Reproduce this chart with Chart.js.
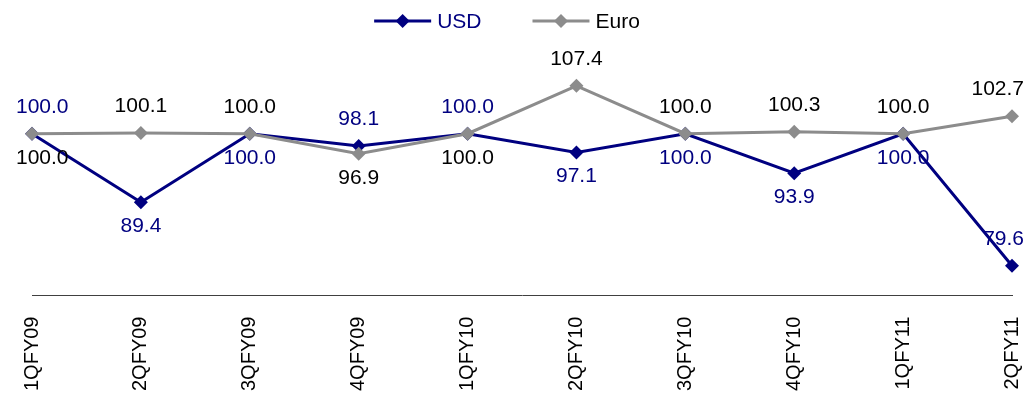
<!DOCTYPE html>
<html>
<head>
<meta charset="utf-8">
<script src="https://cdn.jsdelivr.net/npm/chart.js@4.4.1/dist/chart.umd.min.js"></script>
<style>
    html, body { margin: 0; padding: 0; background: #fff; }
    #wrap { width: 1036px; height: 394px; position: relative; }
</style>
</head>
<body>
<div id="wrap"><canvas id="fxChart"></canvas></div>
<script>
    // Quarter labels
    const quarters = ['1QFY09', '2QFY09', '3QFY09', '4QFY09', '1QFY10', '2QFY10', '3QFY10', '4QFY10', '1QFY11', '2QFY11'];

    // Index values
    const usdValues = [100.0, 89.4, 100.0, 98.1, 100.0, 97.1, 100.0, 93.9, 100.0, 79.6];
    const euroValues = [100.0, 100.1, 100.0, 96.9, 100.0, 107.4, 100.0, 100.3, 100.0, 102.7];

    // Where each data label sits relative to its point
    const usdLabelPos = ['above', 'below', 'below', 'above', 'above', 'below', 'below', 'below', 'below', 'above'];
    const euroLabelPos = ['below', 'above', 'above', 'below', 'below', 'above', 'above', 'above', 'above', 'above'];

    const NAVY = '#000080';
    const GREY = '#8c8c8c';
    const FONT = '"Liberation Sans", Arial, sans-serif';

    /**
     * Value labels next to each point
     */
    const pointLabels = {
        id: 'pointLabels',
        afterDatasetsDraw(chart) {
            const ctx = chart.ctx;
            ctx.save();
            ctx.font = '21px ' + FONT;
            ctx.textAlign = 'center';
            ctx.textBaseline = 'middle';
            chart.data.datasets.forEach((ds, di) => {
                const meta = chart.getDatasetMeta(di);
                meta.data.forEach((pt, i) => {
                    const txt = ds.data[i].toFixed(1);
                    const w = ctx.measureText(txt).width;
                    let x = Math.min(Math.max(pt.x, 16 + w / 2), 1024 - w / 2);
                    const y = ds.labelPos[i] === 'above' ? pt.y - 27 : pt.y + 24;
                    ctx.fillStyle = ds.labelColor;
                    ctx.fillText(txt, x, y);
                });
            });
            ctx.restore();
        }
    };

    /**
     * Legend: line with a diamond marker, like the original
     */
    const lineLegend = {
        id: 'lineLegend',
        afterDraw(chart) {
            const ctx = chart.ctx;
            ctx.save();
            ctx.font = '21px ' + FONT;
            ctx.textBaseline = 'middle';
            const lineLen = 57, gap = 6, spacing = 51, y = 21;
            const items = [
                { text: 'USD', color: NAVY, textColor: NAVY },
                { text: 'Euro', color: GREY, textColor: '#000' }
            ];
            let total = 0;
            items.forEach((it, i) => {
                it.w = ctx.measureText(it.text).width;
                total += lineLen + gap + it.w + (i ? spacing : 0);
            });
            let x = 507 - total / 2;
            items.forEach(it => {
                ctx.strokeStyle = it.color;
                ctx.lineWidth = 3;
                ctx.beginPath();
                ctx.moveTo(x, y);
                ctx.lineTo(x + lineLen, y);
                ctx.stroke();
                const cx = x + lineLen / 2;
                ctx.fillStyle = it.color;
                ctx.beginPath();
                ctx.moveTo(cx, y - 7);
                ctx.lineTo(cx + 7, y);
                ctx.lineTo(cx, y + 7);
                ctx.lineTo(cx - 7, y);
                ctx.closePath();
                ctx.fill();
                ctx.fillStyle = it.textColor;
                ctx.fillText(it.text, x + lineLen + gap, y + 1);
                x += lineLen + gap + it.w + spacing;
            });
            ctx.restore();
        }
    };

    new Chart(document.getElementById('fxChart'), {
        type: 'line',
        data: {
            labels: quarters,
            datasets: [{
                label: 'USD',
                data: usdValues,
                borderColor: NAVY,
                backgroundColor: NAVY,
                borderWidth: 3,
                pointStyle: 'rectRot',
                pointRadius: 7,
                pointBorderWidth: 0,
                labelPos: usdLabelPos,
                labelColor: NAVY,
                order: 1
            }, {
                label: 'Euro',
                data: euroValues,
                borderColor: GREY,
                backgroundColor: GREY,
                borderWidth: 3,
                pointStyle: 'rectRot',
                pointRadius: 7,
                pointBorderWidth: 0,
                labelPos: euroLabelPos,
                labelColor: '#000',
                order: 0
            }]
        },
        options: {
            responsive: true,
            maintainAspectRatio: false,
            animation: false,
            layout: {
                padding: { top: 69, left: 32, right: 24, bottom: -18 }
            },
            plugins: {
                legend: { display: false },
                tooltip: { enabled: false }
            },
            scales: {
                x: {
                    offset: false,
                    grid: { display: false, drawTicks: false },
                    border: { display: true, color: '#404040', width: 1 },
                    afterFit: function(scale) {
                        // let the plot run to the padding edges
                        scale.paddingLeft = 0;
                        scale.paddingRight = 0;
                    },
                    ticks: {
                        color: '#000',
                        font: { family: FONT, size: 20 },
                        minRotation: 90,
                        maxRotation: 90,
                        padding: 21,
                        autoSkip: false
                    }
                },
                y: {
                    display: false,
                    min: 75,
                    max: 110
                }
            }
        },
        plugins: [pointLabels, lineLegend]
    });
</script>
</body>
</html>
